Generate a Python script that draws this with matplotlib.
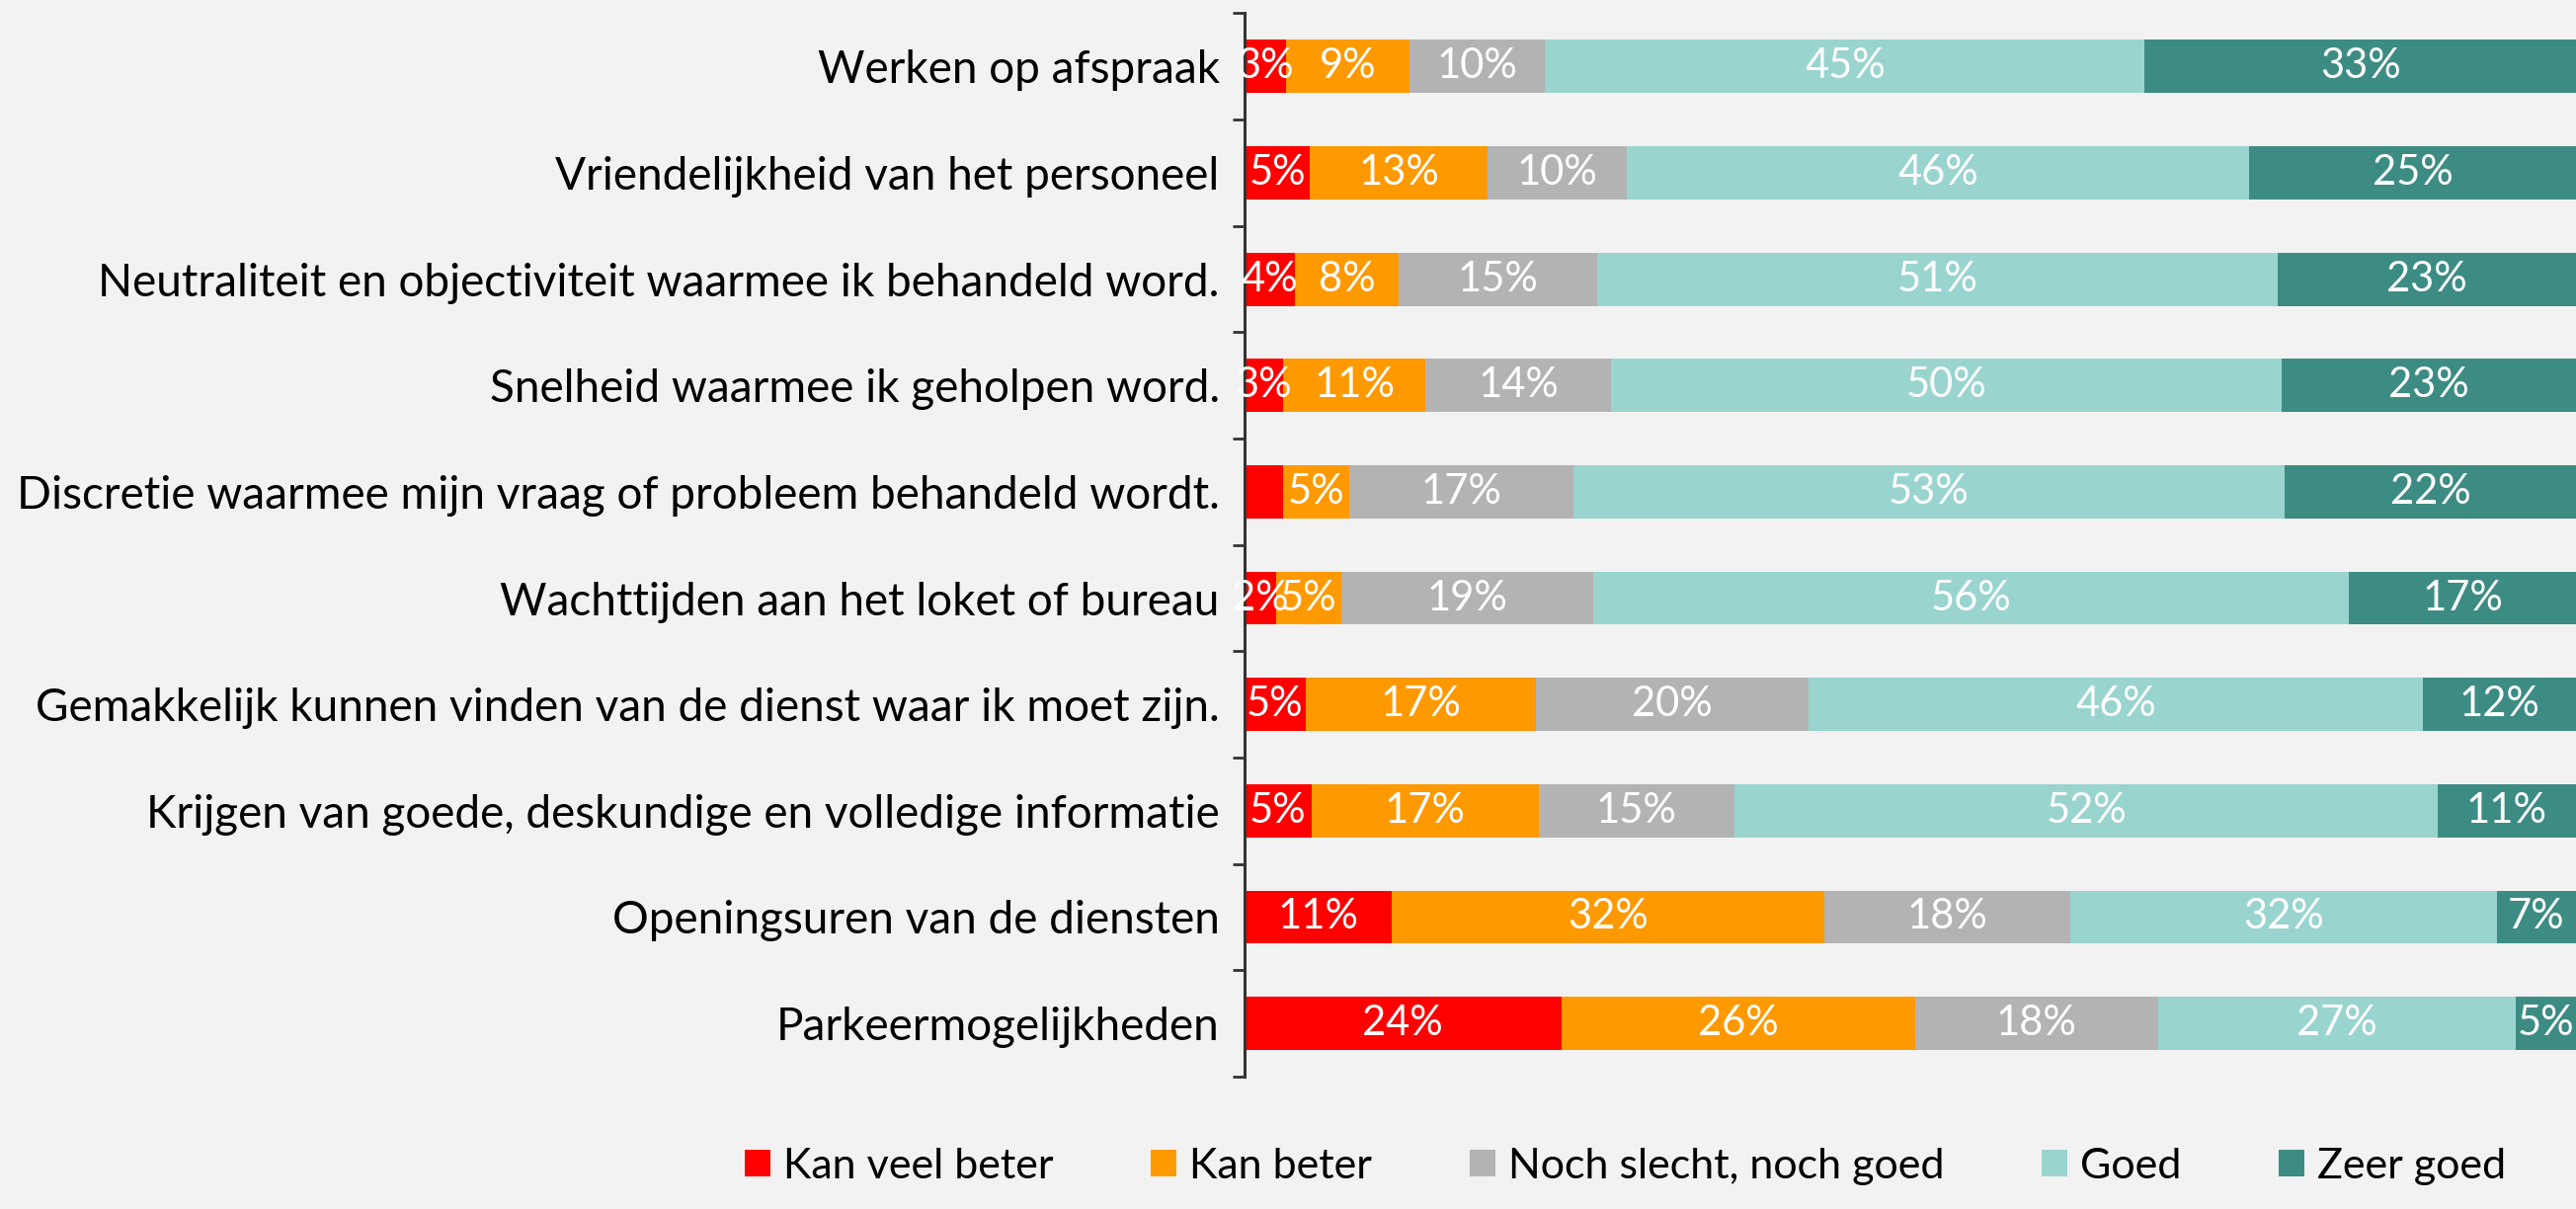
import matplotlib.pyplot as plt
import numpy as np

categories = [
    'Werken op afspraak',
    'Vriendelijkheid van het personeel',
    'Neutraliteit en objectiviteit waarmee ik behandeld word.',
    'Snelheid waarmee ik geholpen word.',
    'Discretie waarmee mijn vraag of probleem behandeld wordt.',
    'Wachttijden aan het loket of bureau',
    'Gemakkelijk kunnen vinden van de dienst waar ik moet zijn.',
    'Krijgen van goede, deskundige en volledige informatie',
    'Openingsuren van de diensten',
    'Parkeermogelijkheden',
]
series_names = ['Kan veel beter', 'Kan beter', 'Noch slecht, noch goed', 'Goed', 'Zeer goed']

# shares in % (labels show them rounded)
kan_veel_beter = [3.1, 4.9, 3.8, 2.9, 2.9, 2.4, 4.6, 5.0, 11.0, 23.6]
kan_beter = [9.2, 13.2, 7.7, 10.6, 4.9, 4.8, 17.1, 16.9, 32.2, 26.3]
noch_noch = [10.1, 10.4, 14.8, 13.8, 16.7, 18.8, 20.3, 14.6, 18.3, 18.1]
goed = [44.6, 46.3, 50.6, 49.9, 52.9, 56.2, 45.7, 52.3, 31.7, 26.6]
zeer_goed = [33.0, 25.2, 23.1, 22.8, 22.4, 17.4, 12.3, 11.4, 6.8, 5.4]

# label that is not shown in the original (red part of "Discretie ...")
hidden = [(0, 4)]

colors = ['#FF0000', '#FF9900', '#B3B3B3', '#9AD4CF', '#3D8C84']
bg = '#F2F2F2'

plt.rcParams['font.family'] = ['Lato', 'DejaVu Sans']

fig = plt.figure(figsize=(26.08, 12.24), dpi=100, facecolor=bg)
ax = fig.add_axes([0.483, 0.1095, 0.517, 0.8795], facecolor=bg)

y = np.arange(len(categories))
left = np.zeros(len(categories))
all_series = [kan_veel_beter, kan_beter, noch_noch, goed, zeer_goed]
for s, (vals, name, col) in enumerate(zip(all_series, series_names, colors)):
    vals = np.array(vals, dtype=float)
    bars = ax.barh(y, vals, left=left, height=0.5, color=col, label=name)
    labels = []
    for i, v in enumerate(vals):
        labels.append('' if (s, i) in hidden else f'{v:.0f}%')
    txts = ax.bar_label(bars, labels=labels, label_type='center',
                        color='white', fontsize=30)
    for t in txts:
        t.set_clip_on(True)
    left += vals

ax.set_ylim(len(categories) - 0.5, -0.5)
ax.set_xlim(0, 99.1)
ax.set_yticks(y)
ax.set_yticklabels(categories, fontsize=33)
ax.tick_params(axis='y', which='major', length=0, pad=18)
ax.set_yticks(np.arange(-0.5, len(categories), 1), minor=True)
ax.tick_params(axis='y', which='minor', length=9, width=2, color='#333333')
ax.set_xticks([])
for sp in ['top', 'right', 'bottom']:
    ax.spines[sp].set_visible(False)
ax.spines['left'].set_linewidth(2.2)
ax.spines['left'].set_color('#333333')

fig.legend(loc='lower center', bbox_to_anchor=(0.631, -0.012), ncol=5, frameon=False,
           fontsize=31, handlelength=0.6, handleheight=0.6, handletextpad=0.3,
           columnspacing=2.3)

fig.savefig('out.png', dpi=100, facecolor=bg)
